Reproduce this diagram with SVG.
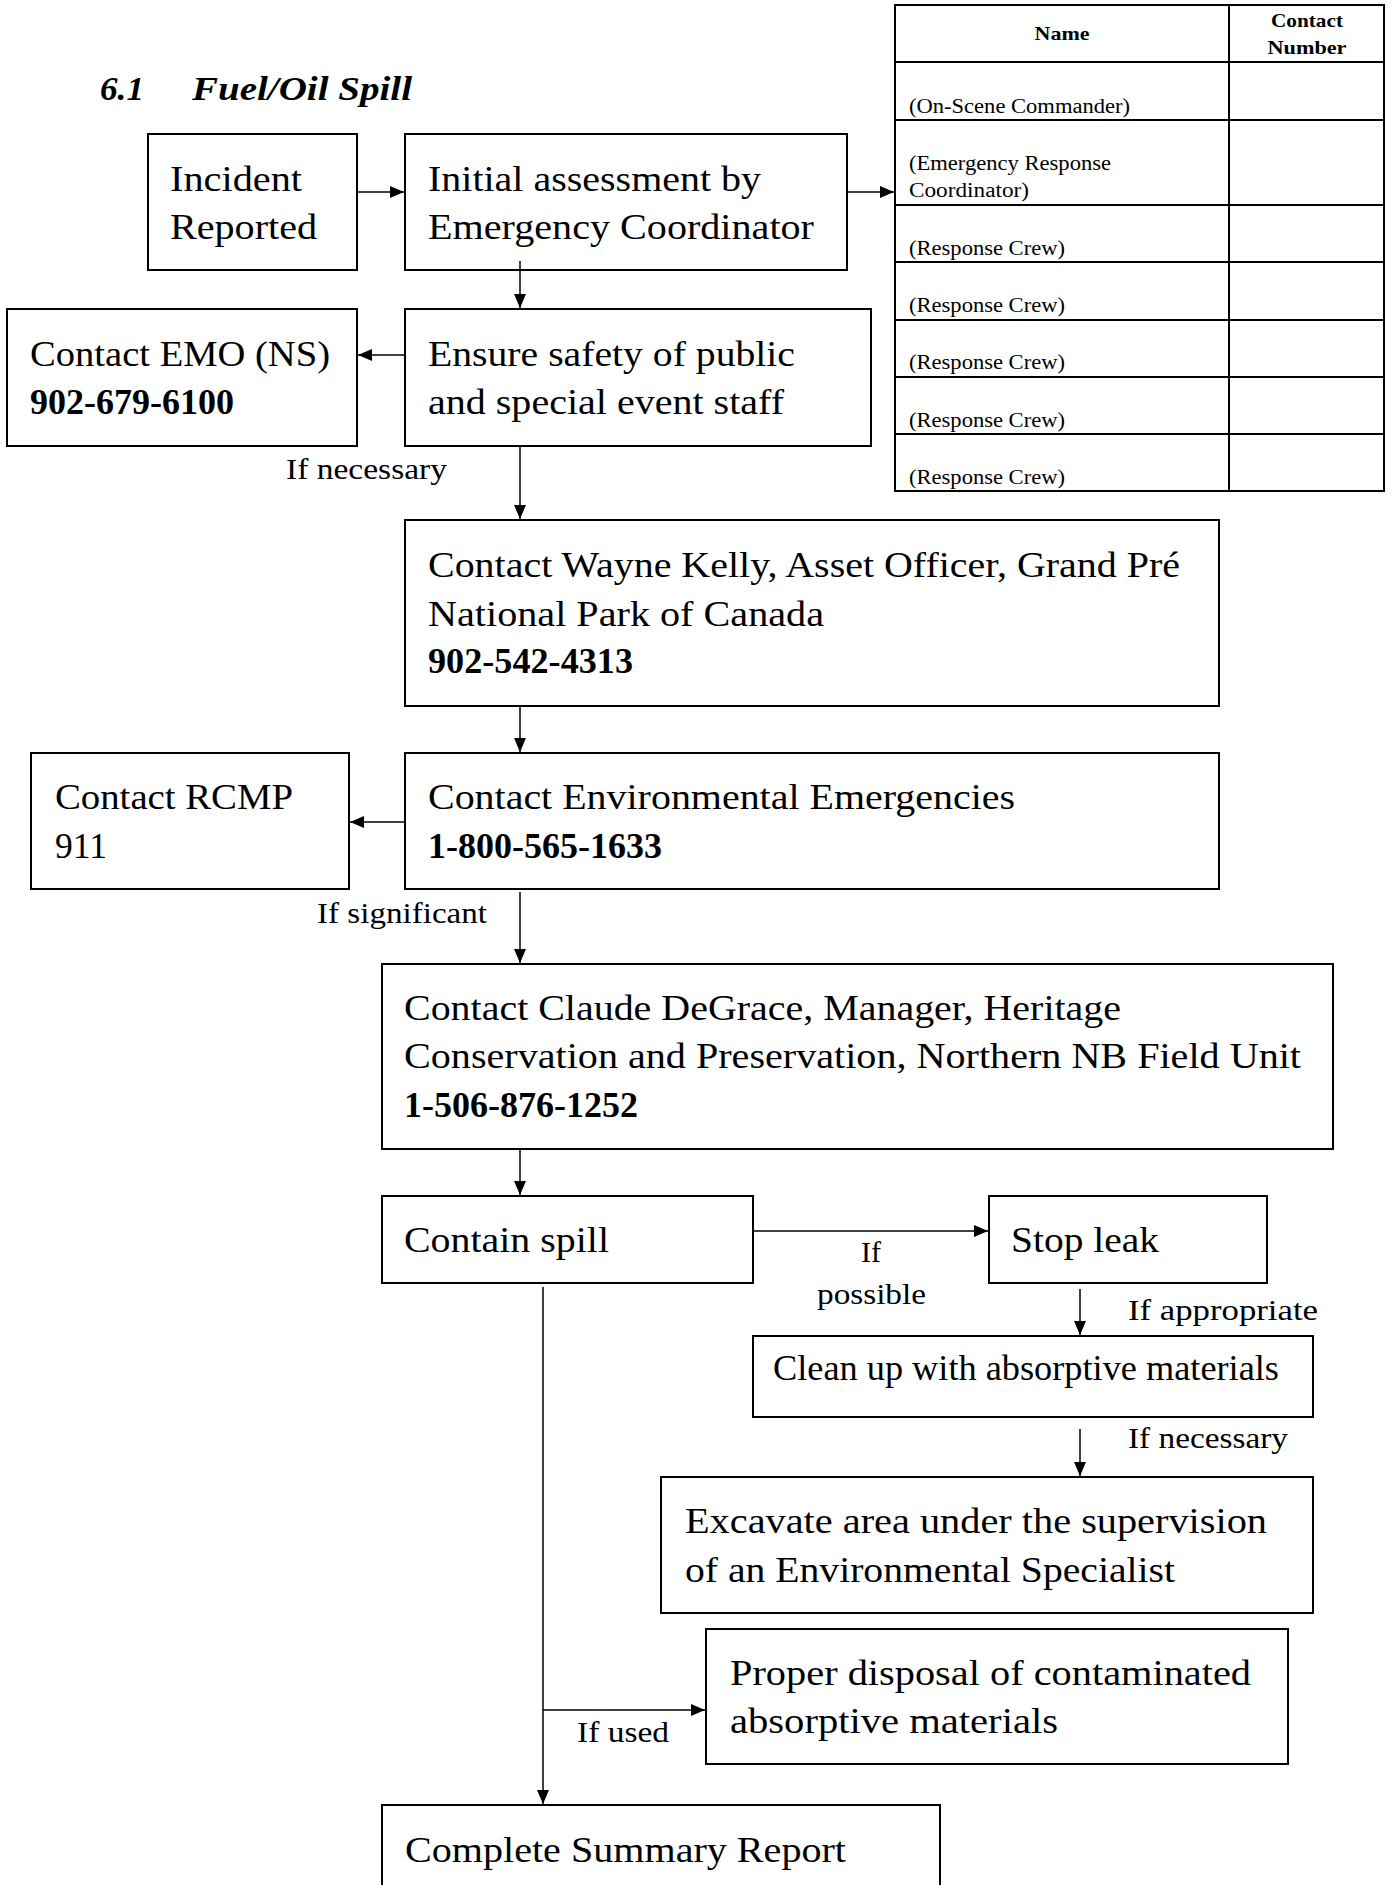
<svg xmlns="http://www.w3.org/2000/svg" width="1393" height="1885" viewBox="0 0 1393 1885">
<style>
  .box{fill:#fff;stroke:#000;stroke-width:2}
  .t{font-family:"Liberation Serif","Times New Roman",serif;font-size:36px;fill:#000}
  .b{font-weight:bold}
  .lbl{font-family:"Liberation Serif","Times New Roman",serif;font-size:30px;fill:#000}
  .tb{font-family:"Liberation Serif","Times New Roman",serif;font-size:20px;fill:#000}
  .th{font-family:"Liberation Serif","Times New Roman",serif;font-size:19px;font-weight:bold;fill:#000}
  .title{font-family:"Liberation Serif","Times New Roman",serif;font-size:34px;font-weight:bold;font-style:italic;fill:#000}
  .c{fill:none;stroke:#000;stroke-width:1.5}
  .tl{fill:none;stroke:#000;stroke-width:2}
</style>
<defs>
  <marker id="ah" viewBox="0 0 14 12" refX="14" refY="6" markerWidth="14" markerHeight="12" markerUnits="userSpaceOnUse" orient="auto">
    <path d="M0,0 L14,6 L0,12 z" fill="#000"/>
  </marker>
</defs>
<rect width="1393" height="1885" fill="#fff"/>

<g id="title">
  <text class="title" x="100" y="100" textLength="44" lengthAdjust="spacingAndGlyphs">6.1</text>
  <text class="title" x="192" y="100" textLength="220" lengthAdjust="spacingAndGlyphs">Fuel/Oil Spill</text>
</g>

<g id="contact-table">
  <rect class="tl" x="895" y="5" width="489" height="486" fill="#fff"/>
  <line class="tl" x1="1229" y1="5" x2="1229" y2="491"/>
  <line class="tl" x1="895" y1="62" x2="1384" y2="62"/>
  <line class="tl" x1="895" y1="120" x2="1384" y2="120"/>
  <line class="tl" x1="895" y1="205" x2="1384" y2="205"/>
  <line class="tl" x1="895" y1="262" x2="1384" y2="262"/>
  <line class="tl" x1="895" y1="320" x2="1384" y2="320"/>
  <line class="tl" x1="895" y1="377" x2="1384" y2="377"/>
  <line class="tl" x1="895" y1="434" x2="1384" y2="434"/>
  <text class="th" x="1062" y="40" text-anchor="middle" textLength="55" lengthAdjust="spacingAndGlyphs">Name</text>
  <text class="th" x="1307" y="27" text-anchor="middle" textLength="72" lengthAdjust="spacingAndGlyphs">Contact</text>
  <text class="th" x="1307" y="54" text-anchor="middle" textLength="79" lengthAdjust="spacingAndGlyphs">Number</text>
  <text class="tb" x="909" y="113" textLength="221" lengthAdjust="spacingAndGlyphs">(On-Scene Commander)</text>
  <text class="tb" x="909" y="170" textLength="202" lengthAdjust="spacingAndGlyphs">(Emergency Response</text>
  <text class="tb" x="909" y="197" textLength="120" lengthAdjust="spacingAndGlyphs">Coordinator)</text>
  <text class="tb" x="909" y="255" textLength="156" lengthAdjust="spacingAndGlyphs">(Response Crew)</text>
  <text class="tb" x="909" y="312" textLength="156" lengthAdjust="spacingAndGlyphs">(Response Crew)</text>
  <text class="tb" x="909" y="369" textLength="156" lengthAdjust="spacingAndGlyphs">(Response Crew)</text>
  <text class="tb" x="909" y="427" textLength="156" lengthAdjust="spacingAndGlyphs">(Response Crew)</text>
  <text class="tb" x="909" y="484" textLength="156" lengthAdjust="spacingAndGlyphs">(Response Crew)</text>
</g>

<g id="incident">
  <rect class="box" x="148" y="134" width="209" height="136"/>
  <text class="t" x="170" y="191" textLength="132" lengthAdjust="spacingAndGlyphs">Incident</text>
  <text class="t" x="170" y="239" textLength="147" lengthAdjust="spacingAndGlyphs">Reported</text>
</g>

<g id="initial">
  <rect class="box" x="405" y="134" width="442" height="136"/>
  <text class="t" x="428" y="191" textLength="333" lengthAdjust="spacingAndGlyphs">Initial assessment by</text>
  <text class="t" x="428" y="239" textLength="386" lengthAdjust="spacingAndGlyphs">Emergency Coordinator</text>
</g>

<g id="emo">
  <rect class="box" x="7" y="309" width="350" height="137"/>
  <text class="t" x="30" y="366" textLength="300" lengthAdjust="spacingAndGlyphs">Contact EMO (NS)</text>
  <text class="t b" x="30" y="414" textLength="204" lengthAdjust="spacingAndGlyphs">902-679-6100</text>
</g>

<g id="ensure">
  <rect class="box" x="405" y="309" width="466" height="137"/>
  <text class="t" x="428" y="366" textLength="367" lengthAdjust="spacingAndGlyphs">Ensure safety of public</text>
  <text class="t" x="428" y="414" textLength="356" lengthAdjust="spacingAndGlyphs">and special event staff</text>
</g>

<g id="wayne">
  <rect class="box" x="405" y="520" width="814" height="186"/>
  <text class="t" x="428" y="577" textLength="752" lengthAdjust="spacingAndGlyphs">Contact Wayne Kelly, Asset Officer, Grand Pré</text>
  <text class="t" x="428" y="626" textLength="396" lengthAdjust="spacingAndGlyphs">National Park of Canada</text>
  <text class="t b" x="428" y="673" textLength="205" lengthAdjust="spacingAndGlyphs">902-542-4313</text>
</g>

<g id="rcmp">
  <rect class="box" x="31" y="753" width="318" height="136"/>
  <text class="t" x="55" y="809" textLength="238" lengthAdjust="spacingAndGlyphs">Contact RCMP</text>
  <text class="t" x="55" y="858" textLength="52" lengthAdjust="spacingAndGlyphs">911</text>
</g>

<g id="env">
  <rect class="box" x="405" y="753" width="814" height="136"/>
  <text class="t" x="428" y="809" textLength="587" lengthAdjust="spacingAndGlyphs">Contact Environmental Emergencies</text>
  <text class="t b" x="428" y="858" textLength="234" lengthAdjust="spacingAndGlyphs">1-800-565-1633</text>
</g>

<g id="claude">
  <rect class="box" x="382" y="964" width="951" height="185"/>
  <text class="t" x="404" y="1020" textLength="717" lengthAdjust="spacingAndGlyphs">Contact Claude DeGrace, Manager, Heritage</text>
  <text class="t" x="404" y="1068" textLength="897" lengthAdjust="spacingAndGlyphs">Conservation and Preservation, Northern NB Field Unit</text>
  <text class="t b" x="404" y="1117" textLength="234" lengthAdjust="spacingAndGlyphs">1-506-876-1252</text>
</g>

<g id="contain">
  <rect class="box" x="382" y="1196" width="371" height="87"/>
  <text class="t" x="404" y="1252" textLength="205" lengthAdjust="spacingAndGlyphs">Contain spill</text>
</g>

<g id="stopleak">
  <rect class="box" x="989" y="1196" width="278" height="87"/>
  <text class="t" x="1011" y="1252" textLength="148" lengthAdjust="spacingAndGlyphs">Stop leak</text>
</g>

<g id="cleanup">
  <rect class="box" x="753" y="1336" width="560" height="81"/>
  <text class="t" x="773" y="1380" textLength="506" lengthAdjust="spacingAndGlyphs">Clean up with absorptive materials</text>
</g>

<g id="excavate">
  <rect class="box" x="661" y="1477" width="652" height="136"/>
  <text class="t" x="685" y="1533" textLength="582" lengthAdjust="spacingAndGlyphs">Excavate area under the supervision</text>
  <text class="t" x="685" y="1582" textLength="490" lengthAdjust="spacingAndGlyphs">of an Environmental Specialist</text>
</g>

<g id="disposal">
  <rect class="box" x="706" y="1629" width="582" height="135"/>
  <text class="t" x="730" y="1685" textLength="521" lengthAdjust="spacingAndGlyphs">Proper disposal of contaminated</text>
  <text class="t" x="730" y="1733" textLength="328" lengthAdjust="spacingAndGlyphs">absorptive materials</text>
</g>

<g id="summary">
  <rect class="box" x="382" y="1805" width="558" height="100"/>
  <text class="t" x="405" y="1862" textLength="441" lengthAdjust="spacingAndGlyphs">Complete Summary Report</text>
</g>

<g id="connectors">
  <line class="c" x1="357" y1="192" x2="404" y2="192" marker-end="url(#ah)"/>
  <line class="c" x1="847" y1="192" x2="894" y2="192" marker-end="url(#ah)"/>
  <line class="c" x1="520" y1="261" x2="520" y2="308" marker-end="url(#ah)"/>
  <line class="c" x1="405" y1="355" x2="358" y2="355" marker-end="url(#ah)"/>
  <line class="c" x1="520" y1="446" x2="520" y2="519" marker-end="url(#ah)"/>
  <line class="c" x1="520" y1="706" x2="520" y2="752" marker-end="url(#ah)"/>
  <line class="c" x1="405" y1="822" x2="350" y2="822" marker-end="url(#ah)"/>
  <line class="c" x1="520" y1="892" x2="520" y2="963" marker-end="url(#ah)"/>
  <line class="c" x1="520" y1="1149" x2="520" y2="1195" marker-end="url(#ah)"/>
  <line class="c" x1="753" y1="1231" x2="988" y2="1231" marker-end="url(#ah)"/>
  <line class="c" x1="1080" y1="1289" x2="1080" y2="1335" marker-end="url(#ah)"/>
  <line class="c" x1="1080" y1="1429" x2="1080" y2="1476" marker-end="url(#ah)"/>
  <line class="c" x1="543" y1="1287" x2="543" y2="1804" marker-end="url(#ah)"/>
  <line class="c" x1="543" y1="1710" x2="705" y2="1710" marker-end="url(#ah)"/>
  <text class="lbl" x="286" y="479" textLength="161" lengthAdjust="spacingAndGlyphs">If necessary</text>
  <text class="lbl" x="317" y="923" textLength="170" lengthAdjust="spacingAndGlyphs">If significant</text>
  <text class="lbl" x="871" y="1262" text-anchor="middle">If</text>
  <text class="lbl" x="817" y="1304" textLength="109" lengthAdjust="spacingAndGlyphs">possible</text>
  <text class="lbl" x="1128" y="1320" textLength="190" lengthAdjust="spacingAndGlyphs">If appropriate</text>
  <text class="lbl" x="1128" y="1448" textLength="160" lengthAdjust="spacingAndGlyphs">If necessary</text>
  <text class="lbl" x="577" y="1742" textLength="92" lengthAdjust="spacingAndGlyphs">If used</text>
</g>
</svg>
